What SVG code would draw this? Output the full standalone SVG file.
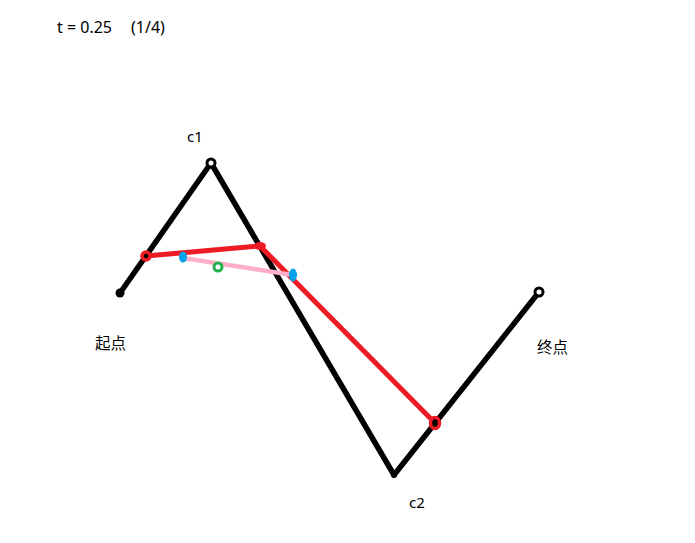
<svg xmlns="http://www.w3.org/2000/svg" width="695" height="543" viewBox="0 0 695 543">
<style>
.lbl{font-family:"Noto Sans","Noto Sans CJK SC",sans-serif;font-size:15px;fill:#000}
.ttl{font-family:"Noto Sans","Noto Sans CJK SC",sans-serif;font-size:16px;fill:#000}
.cjk{font-family:"Noto Sans CJK SC",sans-serif;font-size:15.5px;fill:#000}
.blk{stroke:#000;stroke-width:5.5;fill:none;stroke-linecap:round;stroke-linejoin:round}
.red{stroke:#ed1c24;stroke-width:5;fill:none;stroke-linecap:round;stroke-linejoin:round}
.pink{stroke:#ffaec9;stroke-width:4.5;fill:none;stroke-linecap:round}
</style>
<rect width="695" height="543" fill="#fff"/>
<text class="ttl" x="57" y="33">t = 0.25</text>
<text class="ttl" x="131" y="33">(1/4)</text>
<g id="connectors">
<polyline id="control-polygon" class="blk" points="120,293 211,163 394,475 539,292"/>
<polyline id="level1" class="red" points="146,256 260,246 435,423"/>
<line id="level2" class="pink" x1="183" y1="258" x2="293" y2="275"/>
</g>
<g id="start">
<circle cx="120" cy="293" r="4.5" fill="#000"/>
<text class="cjk" x="95" y="349">起点</text>
</g>
<g id="c1">
<circle cx="211" cy="163" r="4" fill="#fff" stroke="#000" stroke-width="3"/>
<text class="lbl" x="187" y="142">c1</text>
</g>
<g id="c2">
<circle cx="394" cy="475" r="3" fill="#000"/>
<text class="lbl" x="409" y="508">c2</text>
</g>
<g id="end">
<circle cx="539" cy="292" r="4" fill="#fff" stroke="#000" stroke-width="3"/>
<text class="cjk" x="537" y="353">终点</text>
</g>
<g id="p01">
<circle cx="146" cy="256" r="4" fill="#000" stroke="#ed1c24" stroke-width="3.5"/>
</g>
<g id="p12">
<ellipse cx="260" cy="246" rx="6" ry="4" fill="#ed1c24"/>
</g>
<g id="p23">
<ellipse cx="435" cy="423" rx="4.5" ry="5.5" fill="#000" stroke="#ed1c24" stroke-width="3.5"/>
</g>
<g id="q0">
<ellipse cx="183" cy="257" rx="4" ry="5.5" fill="#00a2e8"/>
</g>
<g id="q1">
<ellipse cx="293" cy="275" rx="4" ry="6.5" fill="#00a2e8"/>
</g>
<g id="b">
<circle cx="218" cy="267" r="4" fill="#fff" stroke="#22b14c" stroke-width="3"/>
</g>
</svg>
